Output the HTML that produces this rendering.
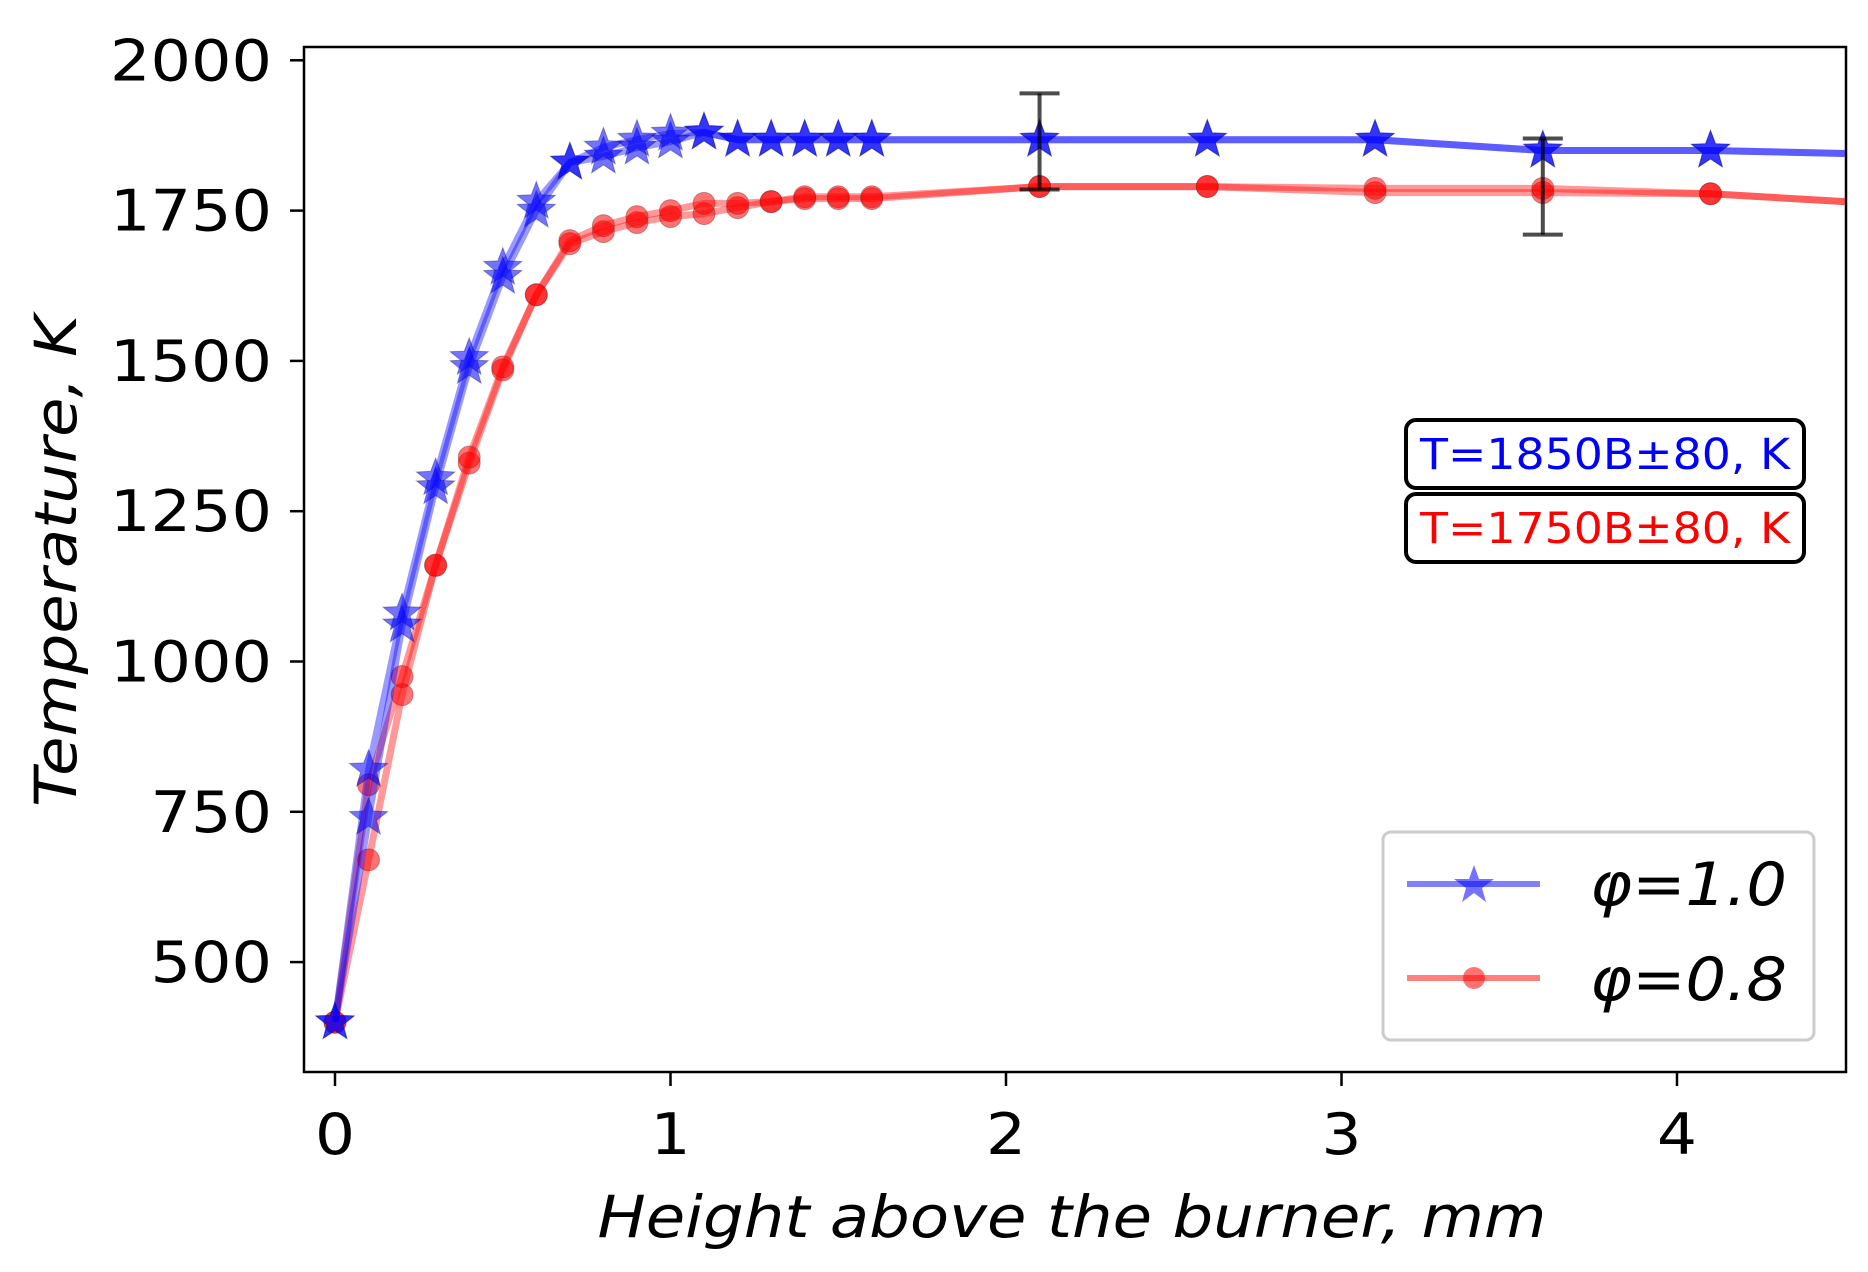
<!DOCTYPE html>
<html><head><meta charset="utf-8"><style>
html,body{margin:0;padding:0;background:#fff;}
svg{display:block;font-family:"DejaVu Sans","Liberation Sans",sans-serif;}
</style></head><body>
<svg id="chart" width="1868" height="1272" viewBox="0 0 1868 1272" xmlns="http://www.w3.org/2000/svg">
<rect x="0" y="0" width="1868" height="1272" fill="#fff"/>
<g id="plot"></g>
</svg>
<script>
const heights = [0,0.1,0.2,0.3,0.4,0.5,0.6,0.7,0.8,0.9,1.0,1.1,1.2,1.3,1.4,1.5,1.6,2.1,2.6,3.1,3.6,4.1,4.5];
const blueRunA = [400,740,1060,1290,1490,1640,1750,1830,1840,1855,1865,1880,1868,1868,1868,1868,1868,1868,1868,1868,1850,1850,1845];
const blueRunB = [400,820,1080,1305,1505,1655,1765,1830,1855,1868,1878,1880,1868,1868,1868,1868,1868,1868,1868,1868,1850,1850,1845];
const redRunA = [400,670,945,1160,1330,1485,1610,1695,1715,1730,1740,1745,1755,1765,1770,1770,1770,1790,1790,1780,1780,1778,1765];
const redRunB = [400,795,975,1160,1340,1490,1610,1700,1725,1740,1750,1762,1762,1765,1773,1773,1773,1790,1790,1787,1787,1778,1765];
const errX = [2.1,3.6];
const errCenter = [1865,1790];
const errHalf = [80,80];
const xTicks = [0,1,2,3,4];
const yTicks = [500,750,1000,1250,1500,1750,2000];

const L=304,R=1846,T=47,B=1072;
const xs = v => 335 + v*335.5;
const ys = v => 60.3 + (2000-v)*0.6012;
const NS="http://www.w3.org/2000/svg";
const g=document.getElementById('plot');
function mk(tag,attrs,parent){const e=document.createElementNS(NS,tag);for(const k in attrs)e.setAttribute(k,attrs[k]);(parent||g).appendChild(e);return e;}
function starPts(cx,cy,r){let p=[];for(let i=0;i<10;i++){const a=-Math.PI/2+i*Math.PI/5;const rr=i%2?r*0.42:r;p.push((cx+rr*Math.cos(a)).toFixed(1)+','+(cy+rr*Math.sin(a)).toFixed(1));}return p.join(' ');}

const clip=mk('clipPath',{id:'clipA'});mk('rect',{x:L,y:T,width:R-L,height:B-T},clip);
const pg=mk('g',{'clip-path':'url(#clipA)'});

function series(vals,color,kind,name){
  const pts=vals.map((v,i)=>xs(heights[i]).toFixed(1)+','+ys(v).toFixed(1)).join(' ');
  const line=mk('polyline',{points:pts,fill:'none',stroke:color,'stroke-width':7,'stroke-opacity':0.4,'stroke-linejoin':'round'},pg);
  
  
  for(let i=0;i<vals.length-1;i++){
    let m;
    if(kind==='star') m=mk('polygon',{points:starPts(xs(heights[i]),ys(vals[i]),20),fill:color,'fill-opacity':0.55,stroke:'#1a1a80','stroke-opacity':0.4,'stroke-width':1},pg);
    else m=mk('circle',{cx:xs(heights[i]),cy:ys(vals[i]),r:11,fill:color,'fill-opacity':0.55,stroke:'#802020','stroke-opacity':0.4,'stroke-width':1},pg);
    
    
  }
}
series(redRunA,'#ff0000','circle','phi-0.8-run-a');
series(redRunB,'#ff0000','circle','phi-0.8-run-b');
series(blueRunA,'#0000ff','star','phi-1.0-run-a');
series(blueRunB,'#0000ff','star','phi-1.0-run-b');

errX.forEach((x,i)=>{
  const eg=mk('g',{stroke:'#000','stroke-opacity':0.7,'stroke-width':4},pg);
  
  
  const cx=xs(x),y1=ys(errCenter[i]+errHalf[i]),y2=ys(errCenter[i]-errHalf[i]);
  mk('line',{x1:cx,y1:y1,x2:cx,y2:y2},eg);
  mk('line',{x1:cx-20,y1:y1,x2:cx+20,y2:y1},eg);
  mk('line',{x1:cx-20,y1:y2,x2:cx+20,y2:y2},eg);
});

const fr=mk('rect',{x:L,y:T,width:R-L,height:B-T,fill:'none',stroke:'#000','stroke-width':2.5});


xTicks.forEach(t=>{
  const x=xs(t);
  mk('line',{x1:x,y1:B,x2:x,y2:B+14,stroke:'#000','stroke-width':2.5});
  const s=String(t);
  const tx=mk('text',{x:x,y:1154,'font-size':57,'text-anchor':'middle',fill:'#000',textLength:40*s.length,lengthAdjust:'spacingAndGlyphs'});tx.textContent=s;
  
  
});
yTicks.forEach(t=>{
  const y=ys(t);
  mk('line',{x1:L,y1:y,x2:L-14,y2:y,stroke:'#000','stroke-width':2.5});
  const s=String(t);
  const tx=mk('text',{x:272,y:y+20,'font-size':57,'text-anchor':'end',fill:'#000',textLength:40.5*s.length,lengthAdjust:'spacingAndGlyphs'});tx.textContent=s;
  
  
});
</script>
<svg style="position:absolute;left:0;top:0" width="1868" height="1272">
<text x="1072" y="1237" font-size="58" font-style="italic" text-anchor="middle" textLength="949" lengthAdjust="spacingAndGlyphs" font-family="DejaVu Sans, sans-serif">Height above the burner, mm</text>
<text transform="translate(76,561) rotate(-90)" font-size="58" font-style="italic" text-anchor="middle" textLength="492" lengthAdjust="spacingAndGlyphs" font-family="DejaVu Sans, sans-serif">Temperature, K</text>
<g>
<rect x="1406" y="420" width="398" height="68" rx="10" fill="#fff" stroke="#000" stroke-width="4"/>
<text x="1605" y="469" font-size="43" fill="#0000ff" text-anchor="middle" textLength="370" lengthAdjust="spacingAndGlyphs" font-family="DejaVu Sans, sans-serif">T=1850B±80, K</text>
</g>
<g>
<rect x="1406" y="494" width="398" height="68" rx="10" fill="#fff" stroke="#000" stroke-width="4"/>
<text x="1605" y="543" font-size="43" fill="#ff0000" text-anchor="middle" textLength="370" lengthAdjust="spacingAndGlyphs" font-family="DejaVu Sans, sans-serif">T=1750B±80, K</text>
</g>
<g>
<rect x="1383" y="832" width="431" height="208" rx="8" fill="#fff" stroke="#ccc" stroke-width="3"/>
<line x1="1407" y1="884" x2="1540" y2="884" stroke="#0000ff" stroke-opacity="0.5" stroke-width="6"/>
<polygon points="1474,865 1479,879 1494,879 1482,888 1486,902 1474,893 1462,902 1466,888 1454,879 1469,879" fill="#0000ff" fill-opacity="0.55"/>
<text x="1590" y="905" font-size="60" font-style="italic" textLength="197" lengthAdjust="spacingAndGlyphs" font-family="DejaVu Sans, sans-serif">φ=1.0</text>
<line x1="1407" y1="978" x2="1540" y2="978" stroke="#ff0000" stroke-opacity="0.5" stroke-width="6"/>
<circle cx="1474" cy="978" r="11" fill="#ff0000" fill-opacity="0.55"/>
<text x="1590" y="1000" font-size="60" font-style="italic" textLength="197" lengthAdjust="spacingAndGlyphs" font-family="DejaVu Sans, sans-serif">φ=0.8</text>
</g>
</svg>
</body></html>
